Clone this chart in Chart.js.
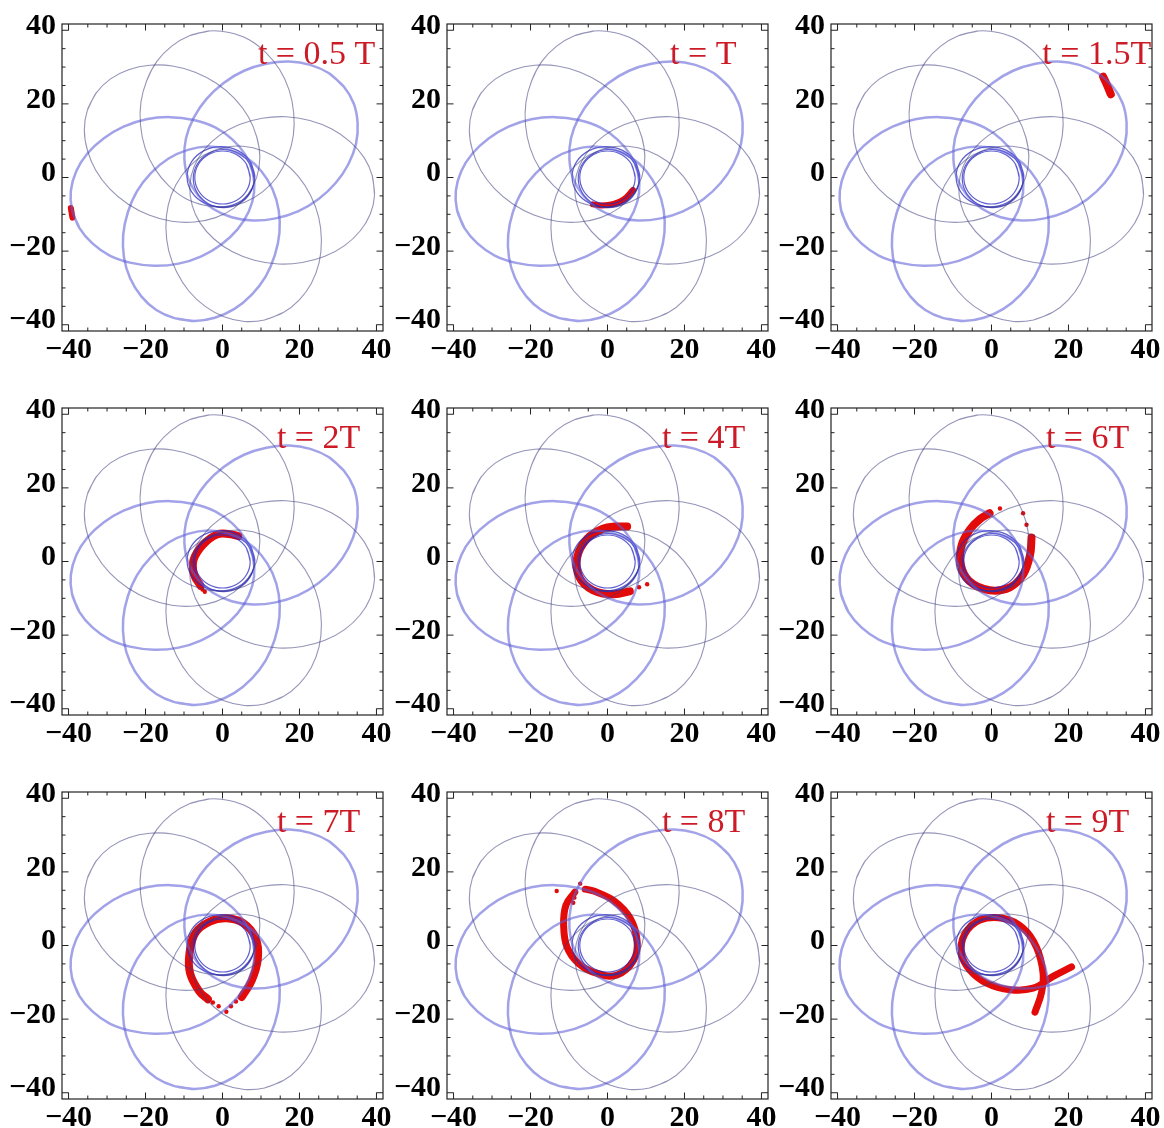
<!DOCTYPE html>
<html><head><meta charset="utf-8">
<script src="https://cdn.jsdelivr.net/npm/chart.js@4.4.1/dist/chart.umd.min.js"></script>
<style>
html,body{margin:0;padding:0;background:#fff;overflow:hidden;width:1164px;height:1128px;position:relative;}
canvas{position:absolute;}
</style></head><body>
<script>
// ---------- data ----------
const TICK_VALUES = [-40, -20, 0, 20, 40];
const MINOR_TICKS = [-40,-35,-30,-25,-20,-15,-10,-5,0,5,10,15,20,25,30,35,40];
const AXIS_MIN = -41.7, AXIS_MAX = 41.7;

// orbit loops
const LOOP_LEFT = [[-39.1,-8.8],[-37.2,-13.7],[-33.8,-17.9],[-29.3,-21.2],[-23.7,-23.2],[-17.7,-24.0],[-11.4,-23.4],[-5.5,-21.4],[-0.3,-18.2],[3.9,-14.1],[6.8,-9.3],[8.2,-4.1],[7.9,1.2],[6.0,6.1],[2.6,10.3],[-1.9,13.6],[-7.5,15.6],[-13.6,16.4],[-19.8,15.8],[-25.7,13.8],[-30.9,10.6],[-35.1,6.5],[-38.0,1.7],[-39.4,-3.6]];
const LOOP_UPPER_RIGHT = [[31.5,24.7],[27.7,28.3],[22.8,30.6],[17.3,31.5],[11.4,30.9],[5.6,29.0],[0.3,25.7],[-4.2,21.3],[-7.5,16.2],[-9.5,10.6],[-9.9,5.0],[-8.9,-0.3],[-6.3,-4.9],[-2.5,-8.5],[2.4,-10.8],[7.9,-11.7],[13.8,-11.1],[19.6,-9.2],[24.9,-5.9],[29.4,-1.5],[32.7,3.6],[34.7,9.2],[35.1,14.8],[34.1,20.1]];
const LOOP_BOTTOM = [[-12.5,-38.2],[-7.3,-39.0],[-2.0,-38.1],[3.1,-35.7],[7.6,-31.8],[11.2,-26.9],[13.6,-21.1],[14.8,-15.0],[14.6,-8.9],[13.0,-3.2],[10.1,1.7],[6.2,5.4],[1.5,7.6],[-3.7,8.4],[-9.0,7.5],[-14.1,5.1],[-18.6,1.2],[-22.2,-3.7],[-24.6,-9.5],[-25.8,-15.6],[-25.6,-21.7],[-24.0,-27.4],[-21.1,-32.3],[-17.2,-36.0]];
const LOOP_BOTTOM_RIGHT = [[10.9,-38.7],[15.8,-36.7],[19.9,-33.3],[23.1,-28.7],[25.1,-23.1],[25.7,-17.0],[25.0,-10.8],[22.9,-4.9],[19.7,0.3],[15.5,4.4],[10.6,7.2],[5.3,8.5],[0.1,8.1],[-4.8,6.1],[-8.9,2.7],[-12.1,-2.0],[-14.1,-7.5],[-14.7,-13.6],[-14.0,-19.8],[-11.9,-25.7],[-8.7,-30.9],[-4.5,-35.0],[0.4,-37.8],[5.7,-39.1]];
const LOOP_RIGHT = [[39.5,-4.8],[38.9,0.5],[36.8,5.4],[33.2,9.7],[28.4,13.2],[22.7,15.5],[16.5,16.5],[10.3,16.1],[4.4,14.4],[-0.7,11.5],[-4.7,7.6],[-7.4,2.9],[-8.5,-2.3],[-7.9,-7.5],[-5.8,-12.4],[-2.2,-16.7],[2.6,-20.2],[8.3,-22.5],[14.5,-23.5],[20.7,-23.1],[26.6,-21.4],[31.7,-18.5],[35.7,-14.6],[38.4,-9.9]];
const LOOP_TOP = [[-3.5,39.8],[-8.6,38.5],[-13.2,35.7],[-17.0,31.6],[-19.7,26.3],[-21.2,20.4],[-21.3,14.2],[-20.1,8.0],[-17.6,2.4],[-14.0,-2.2],[-9.6,-5.7],[-4.5,-7.6],[0.7,-8.0],[5.8,-6.7],[10.4,-3.9],[14.2,0.2],[16.9,5.5],[18.4,11.4],[18.5,17.6],[17.3,23.8],[14.8,29.4],[11.2,34.0],[6.8,37.5],[1.7,39.4]];
const LOOP_UPPER_LEFT = [[-32.8,23.0],[-35.1,18.3],[-35.9,12.9],[-35.1,7.4],[-32.9,1.9],[-29.3,-3.1],[-24.6,-7.2],[-19.1,-10.2],[-13.2,-11.9],[-7.3,-12.1],[-1.8,-10.9],[2.9,-8.4],[6.6,-4.6],[8.9,0.1],[9.7,5.5],[8.9,11.0],[6.7,16.5],[3.1,21.5],[-1.6,25.6],[-7.1,28.6],[-13.0,30.3],[-18.9,30.5],[-24.4,29.3],[-29.1,26.8]];
const WHIRL_1 = [[7.2,0],[6.24,3.6],[3.6,6.24],[0,7.2],[-3.6,6.24],[-6.24,3.6],[-7.2,0],[-6.24,-3.6],[-3.6,-6.24],[0,-7.2],[3.6,-6.24],[6.24,-3.6]];
const WHIRL_2 = [[8.2,-0.3],[7.14,3.65],[4.25,6.54],[0.3,7.6],[-3.65,6.54],[-6.54,3.65],[-7.6,-0.3],[-6.54,-4.25],[-3.65,-7.14],[0.3,-8.2],[4.25,-7.14],[7.14,-4.25]];
const WHIRL_3 = [[8.4,0.2],[7.22,4.3],[4.0,7.3],[-0.4,8.4],[-4.8,7.3],[-8.02,4.3],[-9.2,0.2],[-8.02,-3.9],[-4.8,-6.9],[-0.4,-8.0],[4.0,-6.9],[7.22,-3.9]];

const ORBIT_THICK = [LOOP_LEFT, LOOP_UPPER_RIGHT, LOOP_BOTTOM];
const ORBIT_THIN = [LOOP_TOP, LOOP_UPPER_LEFT, LOOP_RIGHT, LOOP_BOTTOM_RIGHT];
const ORBIT_WHIRL = [WHIRL_1, WHIRL_2, WHIRL_3];

const PANEL_LABELS = ['t = 0.5 T', 't = T', 't = 1.5T', 't = 2T', 't = 4T', 't = 6T', 't = 7T', 't = 8T', 't = 9T'];

// red particle bunches
const RED_TRACKS = [
  [[-39.4,-8.3],[-39.2,-9.6],[-39.0,-10.9]],
  [[-3.8,-7.3],[-1.5,-7.6],[1.6,-7.2],[4.3,-5.9],[6.6,-3.4]],
  [[29.0,27.4],[30.1,24.9],[31.0,22.6]],
  [[4.1,6.9],[1.5,7.5],[-1.5,7.3],[-5.0,4.6],[-7.5,0.5],[-7.4,-3.5],[-5.7,-6.6]],
  [[5.1,9.5],[2.0,9.5],[-1.0,9.0],[-5.3,6.2],[-7.9,1.0],[-7.3,-4.3],[-3.8,-7.8],[1.6,-8.9],[5.8,-8.1]],
  [[-0.5,13.1],[-3.0,11.5],[-5.6,8.7],[-7.8,4.3],[-8.0,-0.8],[-5.8,-5.3],[-0.5,-7.8],[4.8,-7.0],[8.2,-3.6],[10.0,1.7],[10.4,6.5]],
  [[5.0,-14.0],[7.6,-9.5],[9.2,-3.5],[8.6,2.0],[5.4,6.1],[1.0,7.4],[-3.3,6.5],[-7.0,3.5],[-8.6,-2.3],[-8.4,-7.6],[-6.0,-12.5],[-3.8,-14.6]],
  [[-8.5,14.5],[-10.8,11.0],[-11.4,5.6],[-10.5,-0.5],[-7.5,-4.9],[-2.7,-7.6],[2.5,-8.0],[6.8,-4.0],[7.7,1.2],[5.9,7.4],[1.6,12.2],[-3.6,14.8],[-5.8,15.3]],
  [[11.3,-18.1],[13.0,-12.8],[13.4,-7.5],[11.7,-0.5],[8.2,4.7],[3.0,7.4],[-3.0,6.9],[-7.0,3.0],[-7.8,-2.3],[-5.6,-6.7],[-1.3,-10.2],[4.8,-12.0],[10.8,-11.6],[16.0,-8.4],[20.8,-5.8]]
];
const RED_DOTS = [
  [], [], [],
  [[-5.2,-7.6],[-4.6,-8.2]],
  [[8.2,-7.0],[10.3,-6.2]],
  [[2.2,14.4],[8.2,13.1],[9.1,10.0]],
  [[-2.5,-15.5],[-1.0,-16.5],[1.0,-18.0],[2.2,-16.5],[3.5,-15.2]],
  [[-13.2,14.8],[-7.1,16.8],[-8.6,13.0],[-8.9,11.6]],
  []
];

// ---------- layout / style ----------
const LABEL_RIGHT_X = [39.7, 33.5, 41.5, 35.8, 35.8, 35.8, 35.8, 35.8, 35.8];
const LABEL_BASE_Y = 30.7;
const TRACK_WIDTH = [6, 6, 8, 8, 8, 8, 8, 7, 7];
const COL_LEFT = [0, 384.5, 769];
const ROW_TOP = [0, 383.5, 768];

function toXY(pts){ return pts.map(p => ({x:p[0], y:p[1]})); }
function closed(pts){ return toXY(pts.concat([pts[0], pts[1]])); }
function fmt(v){ return v < 0 ? '\u2212' + Math.abs(v) : String(v); }

const framePlugin = {
  id: 'frame',
  afterDraw(chart, args, opts){
    const {ctx, chartArea:a, scales:{x, y}} = chart;
    ctx.save();
    ctx.strokeStyle = '#222';
    ctx.lineWidth = 1.2;
    ctx.strokeRect(a.left, a.top, a.right - a.left, a.bottom - a.top);
    ctx.lineWidth = 1;
    ctx.beginPath();
    MINOR_TICKS.forEach(v => {
      const len = TICK_VALUES.includes(v) ? 6.5 : 3.5;
      const px = x.getPixelForValue(v);
      ctx.moveTo(px, a.bottom); ctx.lineTo(px, a.bottom - len);
      ctx.moveTo(px, a.top); ctx.lineTo(px, a.top + len);
      const py = y.getPixelForValue(v);
      ctx.moveTo(a.left, py); ctx.lineTo(a.left + len, py);
      ctx.moveTo(a.right, py); ctx.lineTo(a.right - len, py);
    });
    ctx.stroke();
    const i = opts.index;
    ctx.fillStyle = '#cc1b26';
    ctx.font = "34px 'Liberation Serif', 'Times New Roman', serif";
    ctx.textAlign = 'right';
    ctx.textBaseline = 'alphabetic';
    ctx.fillText(PANEL_LABELS[i], x.getPixelForValue(LABEL_RIGHT_X[i]), y.getPixelForValue(LABEL_BASE_Y));
    ctx.restore();
  }
};

const tickFont = {family: "'Liberation Serif', 'Times New Roman', serif", size: 30, weight: 'bold'};

for (let i = 0; i < 9; i++){
  const c = document.createElement('canvas');
  c.width = 400; c.height = 384;
  c.style.left = COL_LEFT[i % 3] + 'px';
  c.style.top = ROW_TOP[Math.floor(i / 3)] + 'px';
  c.style.width = '400px'; c.style.height = '384px';
  document.body.appendChild(c);

  const base = {showLine: true, pointRadius: 0, tension: 0.34, capBezierPoints: false, fill: false};
  const datasets = [];
  ORBIT_THIN.forEach(l => datasets.push(Object.assign({data: closed(l), borderColor: 'rgba(60,60,125,0.55)', borderWidth: 1.1}, base)));
  ORBIT_THICK.forEach(l => datasets.push(Object.assign({data: closed(l), borderColor: 'rgba(95,95,215,0.58)', borderWidth: 2.5}, base)));
  ORBIT_WHIRL.forEach(l => datasets.push(Object.assign({data: closed(l), borderColor: 'rgba(40,40,190,0.75)', borderWidth: 1.2}, base, {tension: 0.35})));
  datasets.push({data: toXY(RED_TRACKS[i]), showLine: true, pointRadius: 0, tension: 0.4, capBezierPoints: false, borderColor: '#e30a0a', borderWidth: TRACK_WIDTH[i], borderCapStyle: 'round', borderJoinStyle: 'round', fill: false});
  if (RED_DOTS[i].length) datasets.push({data: toXY(RED_DOTS[i]), showLine: false, pointRadius: 2.2, pointBorderWidth: 0, backgroundColor: '#e30a0a', borderColor: '#e30a0a'});

  new Chart(c, {
    type: 'scatter',
    data: {datasets},
    plugins: [framePlugin],
    options: {
      responsive: false, animation: false, events: [],
      devicePixelRatio: 1,
      layout: {padding: {left: 0, right: 17, top: 14, bottom: 0}},
      plugins: {legend: {display: false}, tooltip: {enabled: false}, frame: {index: i}},
      scales: {
        x: {
          type: 'linear', min: AXIS_MIN, max: AXIS_MAX,
          afterFit(s){ s.height = 53; },
          afterBuildTicks(s){ s.ticks = TICK_VALUES.map(v => ({value: v})); },
          grid: {display: false, drawTicks: false}, border: {display: false},
          ticks: {font: tickFont, color: '#000', padding: 1, maxRotation: 0, autoSkip: false, callback: fmt}
        },
        y: {
          type: 'linear', min: AXIS_MIN, max: AXIS_MAX,
          afterFit(s){ s.width = 62; },
          afterBuildTicks(s){ s.ticks = TICK_VALUES.map(v => ({value: v})); },
          grid: {display: false, drawTicks: false}, border: {display: false},
          ticks: {font: tickFont, color: '#000', padding: 6, labelOffset: -4, autoSkip: false, callback: fmt}
        }
      }
    }
  });
}
</script>
</body></html>
